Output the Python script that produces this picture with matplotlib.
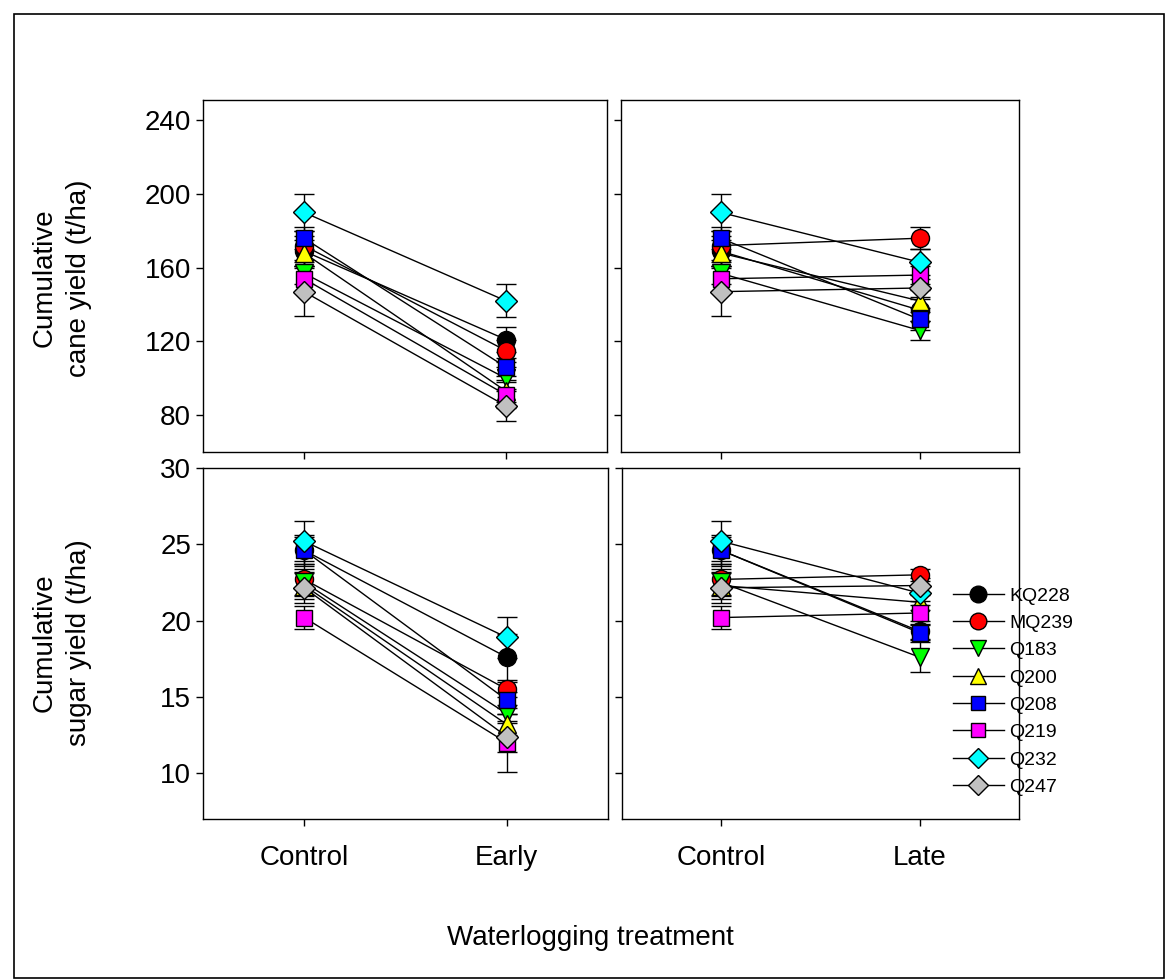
import matplotlib
matplotlib.use("Agg")
import matplotlib.pyplot as plt
from matplotlib.patches import Rectangle
from matplotlib.lines import Line2D

plt.rcParams['font.family'] = ['Liberation Sans', 'DejaVu Sans']

cultivars = ["KQ228", "MQ239", "Q183", "Q200", "Q208", "Q219", "Q232", "Q247"]
colors = ["black", "red", "#00ff00", "yellow", "blue", "magenta", "cyan", "#c0c0c0"]
markers = ["o", "o", "v", "^", "s", "s", "D", "D"]

# cane yield (t/ha)
cane_control = [169, 172, 157, 168, 176, 154, 190, 147]
cane_control_err = [8, 8, 6, 7, 6, 7, 10, 13]
cane_early = [121, 115, 100, 93, 106, 91, 142, 85]
cane_early_err = [7, 6, 6, 6, 5, 7, 9, 8]
cane_late = [137, 176, 126, 142, 132, 156, 163, 149]
cane_late_err = [6, 6, 5, 6, 6, 5, 7, 5]

# sugar yield (t/ha)
sugar_control = [24.6, 22.7, 22.5, 22.3, 24.6, 20.2, 25.2, 22.15]
sugar_control_err = [1.0, 1.0, 0.9, 0.9, 0.9, 0.75, 1.3, 1.0]
sugar_early = [17.6, 15.5, 13.9, 13.2, 14.8, 12.0, 18.9, 12.4]
sugar_early_err = [1.5, 0.5, 0.6, 0.7, 0.5, 1.9, 1.33, 1.0]
sugar_late = [19.3, 23.0, 17.6, 21.2, 19.2, 20.5, 21.8, 22.3]
sugar_late_err = [0.5, 0.4, 1.0, 0.5, 0.5, 0.5, 0.5, 0.5]

W, H = 1168, 980
fig = plt.figure(figsize=(W / 100, H / 100), dpi=100)


def pos(x0, x1, y0, y1):
    return [x0 / W, 1 - y1 / H, (x1 - x0) / W, (y1 - y0) / H]


ax_tl = fig.add_axes(pos(203, 607, 100, 452))
ax_tr = fig.add_axes(pos(621, 1019, 100, 452))
ax_bl = fig.add_axes(pos(203, 608, 468, 819))
ax_br = fig.add_axes(pos(622, 1019, 468, 819))


def msize(m):
    return 13 if m in "o^v" else 11


def draw(ax, ctrl, ctrl_err, trt, trt_err):
    for i in range(len(cultivars)):
        ax.errorbar([1, 2], [ctrl[i], trt[i]], yerr=[ctrl_err[i], trt_err[i]],
                    color="black", lw=1, ecolor="black", elinewidth=1,
                    capsize=7, capthick=1, marker=markers[i],
                    ms=msize(markers[i]), mfc=colors[i], mec="black", mew=1)
    for s in ax.spines.values():
        s.set_linewidth(1)
    ax.tick_params(direction="out", length=5, width=1, labelsize=20)


draw(ax_tl, cane_control, cane_control_err, cane_early, cane_early_err)
draw(ax_tr, cane_control, cane_control_err, cane_late, cane_late_err)
draw(ax_bl, sugar_control, sugar_control_err, sugar_early, sugar_early_err)
draw(ax_br, sugar_control, sugar_control_err, sugar_late, sugar_late_err)

for ax in [ax_tl, ax_tr]:
    ax.set_ylim(60, 251)
    ax.set_yticks([80, 120, 160, 200, 240])
for ax in [ax_bl, ax_br]:
    ax.set_ylim(7, 30)
    ax.set_yticks([10, 15, 20, 25, 30])
for ax in [ax_tl, ax_tr, ax_bl, ax_br]:
    ax.set_xlim(0.5, 2.5)
    ax.set_xticks([1, 2])
ax_tr.tick_params(labelleft=False)
ax_br.tick_params(labelleft=False)
ax_tl.tick_params(labelbottom=False)
ax_tr.tick_params(labelbottom=False)
ax_bl.set_xticklabels(["Control", "Early"])
ax_br.set_xticklabels(["Control", "Late"])
ax_bl.tick_params(axis="x", pad=14)
ax_br.tick_params(axis="x", pad=14)

fig.text(62 / W, 1 - 278 / H, "Cumulative\ncane yield (t/ha)", rotation=90,
         ha="center", va="center", fontsize=20, linespacing=1.4)
fig.text(62 / W, 1 - 643 / H, "Cumulative\nsugar yield (t/ha)", rotation=90,
         ha="center", va="center", fontsize=20, linespacing=1.4)
fig.text(590 / W, 1 - 938 / H, "Waterlogging treatment", ha="center",
         va="center", fontsize=20)

handles = [Line2D([], [], color="black", lw=1, marker=markers[i],
                  ms=msize(markers[i]) - 1, mfc=colors[i], mec="black", mew=1)
           for i in range(len(cultivars))]
leg = ax_br.legend(handles, cultivars, loc="upper left",
                   bbox_to_anchor=((953 - 622) / 397, 1 - (587 - 468) / 351),
                   frameon=False, fontsize=14, handlelength=2.6,
                   handletextpad=0.3, labelspacing=0.5, borderpad=0,
                   borderaxespad=0)

fig.patches.append(Rectangle((14 / W, 2 / H), 1150 / W, 964 / H,
                             transform=fig.transFigure, fill=False,
                             edgecolor="black", lw=1.2))

fig.savefig("out.png", dpi=100)
